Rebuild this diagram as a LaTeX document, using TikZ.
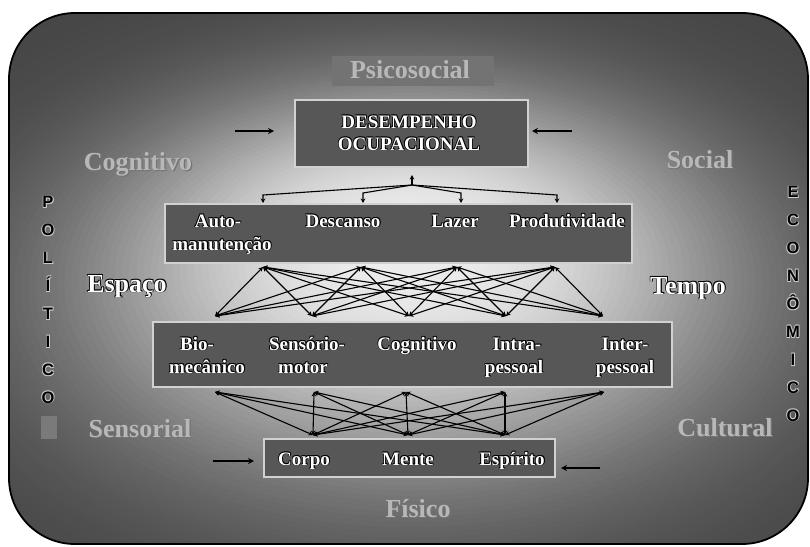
\documentclass[tikz,border=0pt]{standalone}
\usepackage{fontspec}
\setmainfont{Liberation Serif}
\newfontfamily\lettersans{Liberation Sans}
\usetikzlibrary{arrows.meta}

\definecolor{boxfill}{gray}{0.34}
\definecolor{boxedge}{gray}{0.82}
\definecolor{labelgray}{gray}{0.72}
\definecolor{psicofill}{gray}{0.45}
\definecolor{haloc}{gray}{0.80}

% text with a thin coloured rim around it
\newcommand{\glowtext}[2]{%
  \leavevmode
  \rlap{\textcolor{#1}{\kern0.8pt\raisebox{-0.8pt}{#2}}}%
  \rlap{\textcolor{#1}{\kern-0.6pt\raisebox{0.6pt}{#2}}}%
  \rlap{\textcolor{#1}{\kern0.8pt\raisebox{0.6pt}{#2}}}%
  \rlap{\textcolor{#1}{\kern-0.6pt\raisebox{-0.8pt}{#2}}}%
  #2}
\newcommand{\dk}[1]{\glowtext{black}{#1}}
\newcommand{\lt}[1]{\glowtext{haloc}{#1}}
% soft drop shadow for the grey words
\newcommand{\gr}[1]{\leavevmode\rlap{\textcolor{black!55}{\kern1.2pt\raisebox{-1.2pt}{#1}}}#1}

\begin{document}
\begin{tikzpicture}[x=1pt,y=1pt,
  panel/.style={fill=boxfill, draw=boxedge, line width=1.3pt, inner sep=0pt},
  boxtext/.style={text=white, font=\fontsize{19}{22}\selectfont\bfseries, anchor=base, inner sep=0pt},
  bigwhite/.style={text=white, font=\fontsize{26}{30}\selectfont\bfseries, anchor=base, inner sep=0pt},
  graylabel/.style={text=labelgray, font=\fontsize{26}{30}\selectfont\bfseries, anchor=base, inner sep=0pt},
  vletter/.style={text=black, font=\lettersans\fontsize{16.5}{18}\selectfont\bfseries, anchor=base, inner sep=0pt},
  link/.style={draw=black, line width=1.1pt},
  biarrow/.style={link, {Stealth[length=4.5pt,width=4.5pt]}-{Stealth[length=4.5pt,width=4.5pt]}},
  endarrow/.style={link, -{Stealth[length=4.5pt,width=4.5pt]}},
  sidearrow/.style={draw=black, line width=1.6pt, -{Stealth[length=6pt,width=6pt]}},
  frame/.style={draw=black, line width=1.8pt, rounded corners=66pt}]

\useasboundingbox (0,0) rectangle (810,-546);

% ---- background frame: light glow in the middle, dark grey at the rim ----
\begin{scope}
  \clip[rounded corners=66pt] (9,-13) rectangle (808,-544);
  \foreach \s in {0,...,99} {
    \pgfmathsetmacro{\gradr}{72*(1-\s/100)}
    \pgfmathsetmacro{\grady}{-(240+90*\gradr/72)}
    \pgfmathsetmacro{\gradv}{100*(0.27+0.66*exp(-pow(\gradr/33,2.5)))}
    \fill[white!\gradv!black] (410,\grady) ellipse [x radius=10*\gradr, y radius=6*\gradr];
  }
\end{scope}
\draw[frame] (9,-13) rectangle (808,-544);

% ---- panels ----
\node[fill=psicofill, inner sep=0pt, minimum width=162pt, minimum height=30pt] (psicobox) at (413,-71) {};
\node[panel, minimum width=233pt, minimum height=67pt] (occ) at (411.5,-133.5) {};
\node[panel, minimum width=467pt, minimum height=59pt] (areas) at (398.5,-233.5) {};
\node[panel, minimum width=519pt, minimum height=65pt] (comps) at (412.5,-354.5) {};
\node[panel, minimum width=291pt, minimum height=38pt] (self) at (409.5,-458) {};
\node[fill=white!48!black, inner sep=0pt, minimum width=16pt, minimum height=23pt] (blank) at (48.5,-427) {};

% ---- connection points ----
\coordinate (hub) at (412,-185);
\coordinate (hubtip) at (412,-175);
\coordinate (k1) at (263,-195); \coordinate (k2) at (363,-193);
\coordinate (k3) at (461,-193); \coordinate (k4) at (557,-195);
\coordinate (t1) at (263,-203); \coordinate (t2) at (363,-203);
\coordinate (t3) at (461,-203); \coordinate (t4) at (557,-203);

\coordinate (a1) at (263,-267); \coordinate (a2) at (361,-267);
\coordinate (a3) at (457,-267); \coordinate (a4) at (555,-267);

\coordinate (b1) at (215,-316); \coordinate (b2) at (312,-316);
\coordinate (b3) at (409,-316); \coordinate (b4) at (506,-316);
\coordinate (b5) at (603,-316);

\coordinate (c1) at (215,-392); \coordinate (c2) at (314,-392);
\coordinate (c3) at (406,-392); \coordinate (c4) at (505,-392);
\coordinate (c5) at (604,-392);

\coordinate (d1) at (313,-435); \coordinate (d2) at (408,-435);
\coordinate (d3) at (505,-435);

% ---- connectors ----
\draw[endarrow] (hub) -- (hubtip);
\foreach \i in {1,...,4} {
  \draw[endarrow] (hub) -- (k\i) -- (t\i);
}
\foreach \i in {1,...,4} {
  \foreach \j in {1,...,5} {
    \draw[biarrow] (a\i) -- (b\j);
  }
}
\foreach \i in {1,...,5} {
  \foreach \j in {1,...,3} {
    \draw[biarrow] (c\i) -- (d\j);
  }
}

% ---- side arrows ----
\coordinate (ol) at (235,-131); \coordinate (olt) at (274,-131);
\coordinate (or) at (572,-131); \coordinate (ort) at (532,-131);
\coordinate (sl) at (213,-461); \coordinate (slt) at (254,-461);
\coordinate (sr) at (600,-468); \coordinate (srt) at (561,-468);
\draw[sidearrow] (ol) -- (olt);
\draw[sidearrow] (or) -- (ort);
\draw[sidearrow] (sl) -- (slt);
\draw[sidearrow] (sr) -- (srt);

% ---- panel texts ----
\node[boxtext] (occ1) at (409,-128) {\dk{DESEMPENHO}};
\node[boxtext] (occ2) at (409,-150) {\dk{OCUPACIONAL}};

\node[boxtext] (ar1a) at (218,-227) {\dk{Auto-}};
\node[boxtext] (ar1b) at (222,-250) {\dk{manutenção}};
\node[boxtext] (ar2) at (343,-227) {\dk{Descanso}};
\node[boxtext] (ar3) at (455,-227) {\dk{Lazer}};
\node[boxtext] (ar4) at (567,-227) {\dk{Produtividade}};

\node[boxtext] (cp1a) at (197,-350) {\dk{Bio-}};
\node[boxtext] (cp1b) at (207,-373) {\dk{mecânico}};
\node[boxtext] (cp2a) at (307,-350) {\dk{Sensório-}};
\node[boxtext] (cp2b) at (303,-373) {\dk{motor}};
\node[boxtext] (cp3) at (417,-350) {\dk{Cognitivo}};
\node[boxtext] (cp4a) at (517,-350) {\dk{Intra-}};
\node[boxtext] (cp4b) at (514,-373) {\dk{pessoal}};
\node[boxtext] (cp5a) at (625,-350) {\dk{Inter-}};
\node[boxtext] (cp5b) at (625,-373) {\dk{pessoal}};

\node[boxtext] (sf1) at (304,-465) {\dk{Corpo}};
\node[boxtext] (sf2) at (408,-465) {\dk{Mente}};
\node[boxtext] (sf3) at (512,-465) {\dk{Espírito}};

% ---- surrounding labels ----
\node[graylabel] (psico) at (410,-78) {\gr{Psicosocial}};
\node[graylabel] (cogn) at (138,-170) {\gr{Cognitivo}};
\node[graylabel] (soc) at (700,-168) {\gr{Social}};
\node[graylabel] (sens) at (140,-437) {\gr{Sensorial}};
\node[graylabel] (cult) at (725,-436) {\gr{Cultural}};
\node[graylabel] (fis) at (418,-517) {\gr{Físico}};
\node[bigwhite] (esp) at (127,-292) {\dk{Espaço}};
\node[bigwhite] (tmp) at (688,-294) {\dk{Tempo}};

% ---- vertical words ----
\foreach \ch [count=\k from 0] in {P,O,L,Í,T,I,C,O} {
  \node[vletter] (pol\k) at (48,{-202-27.9*\k-5.8}) {\lt{\ch}};
}
\foreach \ch [count=\k from 0] in {E,C,O,N,Ô,M,I,C,O} {
  \node[vletter] (eco\k) at (793,{-192-27.9*\k-5.8}) {\lt{\ch}};
}

\end{tikzpicture}
\end{document}
